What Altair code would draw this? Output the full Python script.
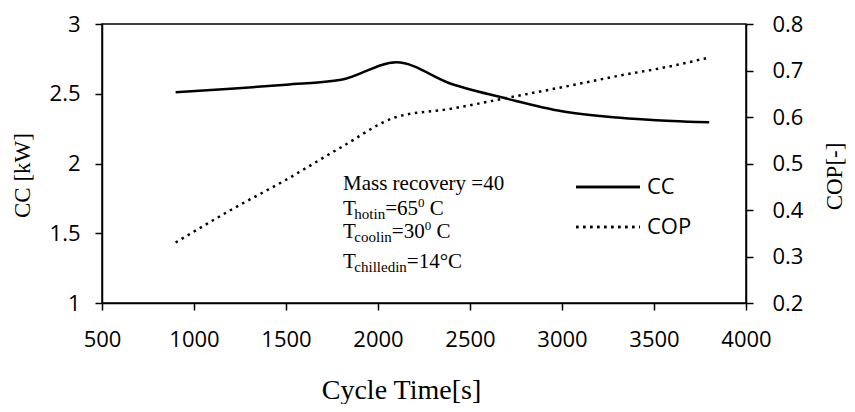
import altair as alt
import pandas as pd

# ---- data ----
cycle_time = [900, 1200, 1500, 1800, 2100, 2400, 2700, 3000, 3300, 3600, 3800]
cc_kw = [2.51, 2.535, 2.565, 2.60, 2.725, 2.57, 2.465, 2.375, 2.33, 2.305, 2.295]
cop = [0.33, 0.40, 0.465, 0.535, 0.60, 0.618, 0.641, 0.664, 0.688, 0.71, 0.728]

x_ticks = [500, 1000, 1500, 2000, 2500, 3000, 3500, 4000]
cc_ticks = [1, 1.5, 2, 2.5, 3]
cop_ticks = [0.2, 0.3, 0.4, 0.5, 0.6, 0.7, 0.8]

legend_names = ["CC", "COP"]

df = pd.DataFrame({"t": cycle_time, "cc": cc_kw, "cop": cop})

SERIF = "Liberation Serif"
SANS = "Open Sans"

# Times New Roman advance widths (Liberation Serif is metric compatible)
TNR = {"T": 611, "h": 500, "o": 500, "t": 278, "i": 278, "n": 500, "=": 564,
       "6": 500, "5": 500, "0": 500, " ": 250, "C": 667, "c": 444, "l": 278,
       "3": 500, "e": 444, "d": 500, "1": 500, "4": 500, "°": 400}


def tw(s, fs):
    return sum(TNR.get(ch, 500) for ch in s) * fs / 1000.0


SUBS = ("hotin", "coolin", "chilledin")

# annotation lines: list of (text, fontsize, dy)
x0 = 241
lines = [
    (166, [("Mass recovery =40", 21, 0)]),
    (191, [("T", 21, 0), ("hotin", 15, 4), ("=65", 21, 0), ("0", 13, -8), (" C", 21, 0)]),
    (214, [("T", 21, 0), ("coolin", 15, 4), ("=30", 21, 0), ("0", 13, -8), (" C", 21, 0)]),
    (244, [("T", 21, 0), ("chilledin", 15, 4), ("=14°C", 21, 0)]),
]
rows = []
for base_y, segs in lines:
    cx = x0
    for text, fs, dy in segs:
        lead = len(text) - len(text.lstrip(" "))
        kern = 1.5 if text in SUBS else 0
        rows.append({"txt": text.strip(), "px": cx + tw(" " * lead, fs) - kern,
                     "py": base_y + dy, "fs": fs})
        cx += tw(text, fs) - kern
ann_df = pd.DataFrame(rows)

base = alt.Chart(df)

x_axis = alt.Axis(
    values=x_ticks, format="d", title="Cycle Time[s]", titleFont=SERIF, titleFontSize=28,
    titleFontWeight="normal", titleColor="black", titleX=299, titleY=95,
    titleBaseline="alphabetic", titleAlign="center",
    labelFont=SANS, labelFontSize=22, labelColor="black", labelBaseline="alphabetic",
    labelPadding=36, labelFlush=False, labelOverlap=False, tickSize=7,
    grid=False, domainColor="black", tickColor="black", domainWidth=1.5, tickWidth=1.5,
)

cc_line = base.mark_line(color="black", strokeWidth=2.5, interpolate="monotone").encode(
    x=alt.X("t:Q", scale=alt.Scale(domain=[500, 4000], nice=False, zero=False), axis=x_axis),
    y=alt.Y("cc:Q", scale=alt.Scale(domain=[1, 3], nice=False, zero=False),
            axis=alt.Axis(values=cc_ticks, format="~g", title="CC [kW]", orient="left",
                          titleFont=SERIF, titleFontSize=23, titleFontWeight="normal",
                          titleColor="black", titleAngle=270, titleX=-80, titleY=151,
                          titleAlign="center", titleBaseline="middle",
                          labelFont=SANS, labelFontSize=22, labelColor="black",
                          labelPadding=15, tickSize=7, grid=False, domainColor="black",
                          tickColor="black", domainWidth=1.5, tickWidth=1.5,
                          labelFlush=False, labelOverlap=False)),
)

cop_line = base.mark_line(color="black", strokeWidth=2.5, strokeDash=[2.5, 4.5],
                          interpolate="monotone").encode(
    x=alt.X("t:Q", scale=alt.Scale(domain=[500, 4000], nice=False, zero=False), axis=None),
    y=alt.Y("cop:Q", scale=alt.Scale(domain=[0.2, 0.8], nice=False, zero=False),
            axis=alt.Axis(values=cop_ticks, format=".1f", title="COP[-]", orient="right",
                          titleFont=SERIF, titleFontSize=23, titleFontWeight="normal",
                          titleColor="black", titleAngle=270, titleX=88, titleY=152,
                          titleAlign="center", titleBaseline="middle",
                          labelFont=SANS, labelFontSize=22, labelColor="black",
                          labelPadding=19, tickSize=7, grid=False, domainColor="black",
                          tickColor="black", domainWidth=1.5, tickWidth=1.5,
                          labelFlush=False, labelOverlap=False)),
)

ann = alt.Chart(ann_df).mark_text(font=SERIF, align="left", baseline="alphabetic",
                                  color="black").encode(
    x=alt.X("px:Q", scale=None, axis=None),
    y=alt.Y("py:Q", scale=None, axis=None),
    text="txt:N",
    size=alt.Size("fs:Q", scale=None, legend=None),
)

leg_df = pd.DataFrame({"name": legend_names})
leg_cc = alt.Chart(leg_df).mark_rule(color="black", strokeWidth=2.5).encode(
    x=alt.value(474), x2=alt.value(538), y=alt.value(163))
leg_cop = alt.Chart(leg_df).mark_rule(color="black", strokeWidth=2.5, strokeDash=[2.5, 4.5]).encode(
    x=alt.value(474), x2=alt.value(538), y=alt.value(203))
leg_t1 = alt.Chart(leg_df).transform_filter(alt.datum.name == "CC").mark_text(
    font=SANS, fontSize=22, align="left", baseline="middle", color="black").encode(
    x=alt.value(545), y=alt.value(163), text="name:N")
leg_t2 = alt.Chart(leg_df).transform_filter(alt.datum.name == "COP").mark_text(
    font=SANS, fontSize=22, align="left", baseline="middle", color="black").encode(
    x=alt.value(545), y=alt.value(203), text="name:N")

chart = alt.layer(cc_line, cop_line, ann, leg_cc, leg_cop, leg_t1, leg_t2).resolve_scale(
    y="independent", x="independent"
).properties(
    width=644, height=279,
    autosize=alt.AutoSizeParams(type="none"),
    padding={"left": 94, "top": 16, "right": 101, "bottom": 101},
    background="white",
).configure_view(stroke="black", strokeWidth=1.5)

chart.save("out.html", embed_options={"renderer": "svg", "actions": False})
